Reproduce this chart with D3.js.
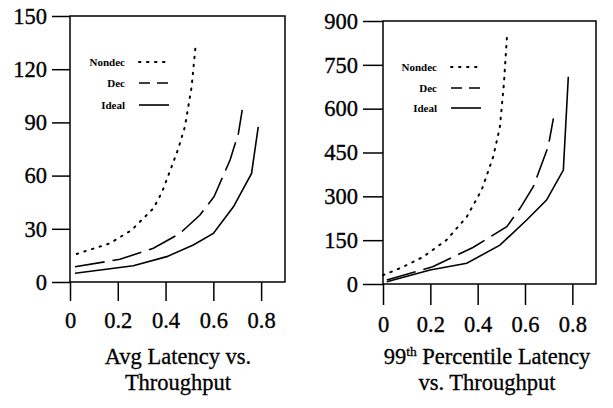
<!DOCTYPE html>
<html lang="en">

<head>
    <meta charset="UTF-8">
    <title>Latency vs. Throughput</title>
    <script src="https://cdn.jsdelivr.net/npm/d3@7"></script>
    <style>
        body { margin: 0; background: #fff; }
        svg { display: block; }
        svg text { font-family: "Liberation Serif", "DejaVu Serif", serif; }
    </style>
</head>

<body>
    <div id="my_dataviz"></div>

    <script>
        // x values shared by both panels
        var throughputTicks = [0, 0.2, 0.4, 0.6, 0.8];
        var avgTicks = [0, 30, 60, 90, 120, 150];
        var p99Ticks = [0, 150, 300, 450, 600, 750, 900];
        var seriesNames = ["Nondec", "Dec", "Ideal"];

        // Avg latency, [throughput, latency]
        var avgNondec = [[0.028, 15.8], [0.167, 21.8], [0.258, 29.3], [0.349, 41.5], [0.386, 50.9],
            [0.428, 66], [0.454, 75.4], [0.481, 87.6], [0.509, 110], [0.527, 135]];
        var avgDec = [[0.021, 8.6], [0.209, 12.8], [0.349, 19.0], [0.46, 27.4], [0.544, 37.8],
            [0.603, 48.1], [0.67, 68.8], [0.705, 83.8], [0.721, 97]];
        var avgIdeal = [[0.021, 4.9], [0.265, 9.2], [0.405, 14.3], [0.516, 20.9], [0.6, 27.4],
            [0.684, 42.4], [0.76, 61.2], [0.788, 87.5]];

        // 99th percentile latency
        var p99Nondec = [[0.0, 30], [0.086, 59], [0.17, 93], [0.269, 151], [0.354, 230],
            [0.417, 322], [0.466, 436], [0.494, 538], [0.511, 687], [0.525, 863]];
        var p99Dec = [[0.016, 14], [0.21, 59], [0.38, 125], [0.523, 196], [0.579, 259],
            [0.635, 333], [0.698, 470], [0.72, 567]];
        var p99Ideal = [[0.016, 8], [0.199, 48], [0.354, 71], [0.494, 133], [0.607, 219],
            [0.691, 287], [0.762, 390], [0.783, 709]];

        var serif = "Liberation Serif";
        var dashes = { "Nondec": "1.5,6.5", "Dec": "30,8", "Ideal": null };
        var legendDashes = { "Nondec": "1.5,6.5", "Dec": "11,7", "Ideal": null };

        var svg = d3.select("#my_dataviz")
            .append("svg")
            .attr("width", 613)
            .attr("height", 408);

        // scanned print looks a little heavier than the plain font
        function inked(sel, w) {
            sel.attr("fill", "#000").attr("stroke", "#000").attr("stroke-width", w);
        }

        function styleAxis(a) {
            a.select(".domain").remove();
            a.attr("font-family", serif).attr("font-size", 22.5);
            a.selectAll("line").attr("stroke", "#000").attr("stroke-width", 1.5);
            a.selectAll("text").call(inked, 0.35);
        }

        function drawPanel(p) {
            var x = d3.scaleLinear().domain([0, 0.9]).range([p.left, p.right]);
            var y = d3.scaleLinear().domain([0, p.yMax]).range([p.bottom, p.top]);
            var g = svg.append("g");

            // y axis
            g.append("g")
                .attr("transform", "translate(" + p.left + ",0)")
                .call(d3.axisLeft(y).tickValues(p.yTicks).tickSize(p.yTickLen).tickPadding(p.yPad))
                .call(styleAxis);

            // x axis
            g.append("g")
                .attr("transform", "translate(0," + p.bottom + ")")
                .call(d3.axisBottom(x).tickValues(throughputTicks).tickFormat(d3.format("")).tickSize(p.xTickLen).tickPadding(11))
                .call(styleAxis);

            // frame
            g.append("rect")
                .attr("x", x(0))
                .attr("y", y(p.yMax))
                .attr("width", x(0.9) - x(0))
                .attr("height", y(0) - y(p.yMax))
                .attr("fill", "none")
                .attr("stroke", "#000")
                .attr("stroke-width", 1.5);

            var line = d3.line()
                .x(function (d) { return x(d[0]); })
                .y(function (d) { return y(d[1]); });

            p.series.forEach(function (s, i) {
                g.append("path")
                    .datum(s)
                    .attr("d", line)
                    .attr("fill", "none")
                    .attr("stroke", "#000")
                    .attr("stroke-width", seriesNames[i] == "Nondec" ? 2 : 1.6)
                    .attr("stroke-linecap", seriesNames[i] == "Nondec" ? "round" : "butt")
                    .attr("stroke-dasharray", dashes[seriesNames[i]]);
            });

            // legend
            seriesNames.forEach(function (name, i) {
                var ly = p.legendY[i];
                g.append("text")
                    .attr("x", p.legendX)
                    .attr("y", ly + 4)
                    .attr("text-anchor", "end")
                    .attr("font-family", serif)
                    .attr("font-size", 11)
                    .attr("font-weight", "bold")
                    .text(name);
                g.append("line")
                    .attr("x1", p.legendX + 14)
                    .attr("x2", p.legendX + 44)
                    .attr("y1", ly)
                    .attr("y2", ly)
                    .attr("stroke", "#000")
                    .attr("stroke-width", name == "Nondec" ? 2 : 1.6)
                    .attr("stroke-linecap", name == "Nondec" ? "round" : "butt")
                    .attr("stroke-dasharray", legendDashes[name]);
            });

            // caption, two separate lines
            p.caption.forEach(function (txt, i) {
                var t = g.append("text")
                    .attr("x", p.capX)
                    .attr("y", 364 + i * 26)
                    .attr("text-anchor", "middle")
                    .attr("font-family", serif)
                    .attr("font-size", 22.5)
                    .call(inked, 0.3);
                if (txt.indexOf("99th") == 0) {
                    t.append("tspan").text("99");
                    t.append("tspan").attr("dy", -8).attr("font-size", 13.5).text("th");
                    t.append("tspan").attr("dy", 8).text(txt.slice(4));
                } else {
                    t.text(txt);
                }
            });
        }

        drawPanel({
            left: 70, right: 285, top: 16, bottom: 282,
            yMax: 150, yTicks: avgTicks, yTickLen: 18, yPad: 5, xTickLen: 19,
            series: [avgNondec, avgDec, avgIdeal],
            legendX: 125, legendY: [62, 83, 105],
            capX: 178,
            caption: ["Avg Latency vs.", "Throughput"]
        });

        drawPanel({
            left: 383, right: 596, top: 21, bottom: 284,
            yMax: 900, yTicks: p99Ticks, yTickLen: 20, yPad: 5, xTickLen: 21,
            series: [p99Nondec, p99Dec, p99Ideal],
            legendX: 437, legendY: [67, 88, 108],
            capX: 487,
            caption: ["99th Percentile Latency", "vs. Throughput"]
        });
    </script>
</body>

</html>
